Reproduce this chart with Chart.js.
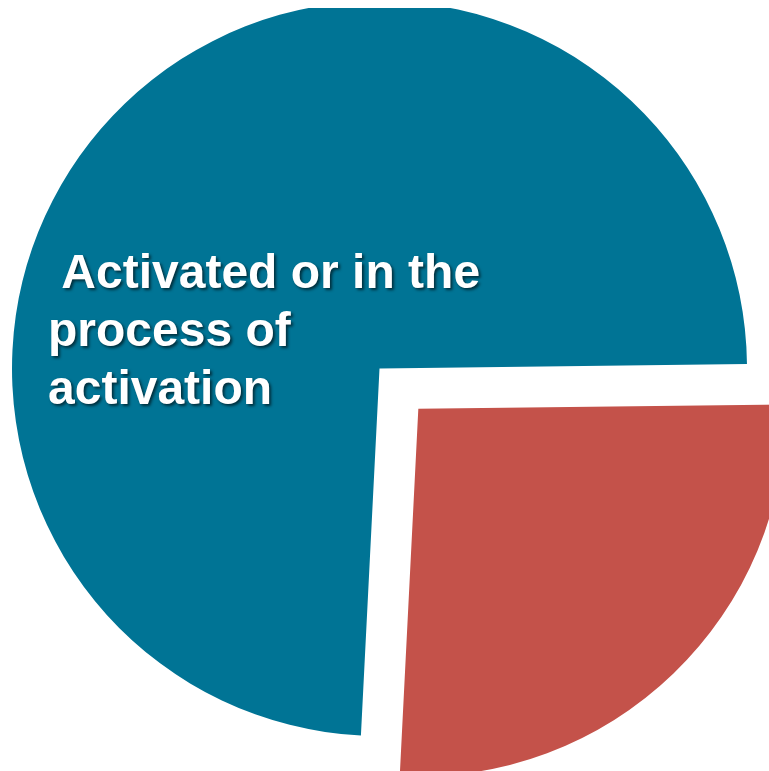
<!DOCTYPE html>
<html>
<head>
<meta charset="utf-8">
<script src="https://cdn.jsdelivr.net/npm/chart.js@4"></script>
<style>
  html, body { margin: 0; padding: 0; background: #ffffff; width: 769px; height: 771px; overflow: hidden; }
  #wrap { position: absolute; left: 0; top: 8px; width: 769px; height: 763px; overflow: hidden; }
  #c { position: absolute; left: -100px; top: -119px; }
</style>
</head>
<body>
<div id="wrap"><canvas id="c" width="959" height="959"></canvas></div>
<script>
// Data
const categories = ["Not activated", "Activated or in the process of activation"];
const shares = [26, 74];
const sliceColors = ["#C4524A", "#007495"];
const sliceOffsets = [224, 0];
const labelLines = [" Activated or in the", "process of", "activation"];

const labelPlugin = {
  id: 'sliceLabel',
  afterDatasetsDraw(chart) {
    const arc = chart.getDatasetMeta(0).data[1];
    const ctx = chart.ctx;
    const cx = arc.x, cy = arc.y, r = arc.outerRadius;
    ctx.save();
    ctx.font = 'bold 48px "Liberation Sans", Arial, sans-serif';
    ctx.textAlign = 'left';
    ctx.textBaseline = 'alphabetic';
    ctx.fillStyle = '#ffffff';
    ctx.shadowColor = 'rgba(0,0,0,0.6)';
    ctx.shadowBlur = 3;
    ctx.shadowOffsetX = 2;
    ctx.shadowOffsetY = 2;
    const x0 = cx - r * 0.902;
    const y0 = cy - r * 0.22;
    labelLines.forEach((ln, i) => {
      ctx.fillText(ln, x0, y0 + i * 58);
    });
    ctx.restore();
  }
};

new Chart(document.getElementById('c'), {
  type: 'pie',
  data: {
    labels: categories,
    datasets: [{
      data: shares,
      backgroundColor: sliceColors,
      borderWidth: 0,
      offset: sliceOffsets
    }]
  },
  options: {
    responsive: false,
    animation: false,
    rotation: 89.3,
    layout: { padding: 0 },
    plugins: {
      legend: { display: false },
      tooltip: { enabled: false }
    }
  },
  plugins: [labelPlugin]
});
</script>
</body>
</html>
